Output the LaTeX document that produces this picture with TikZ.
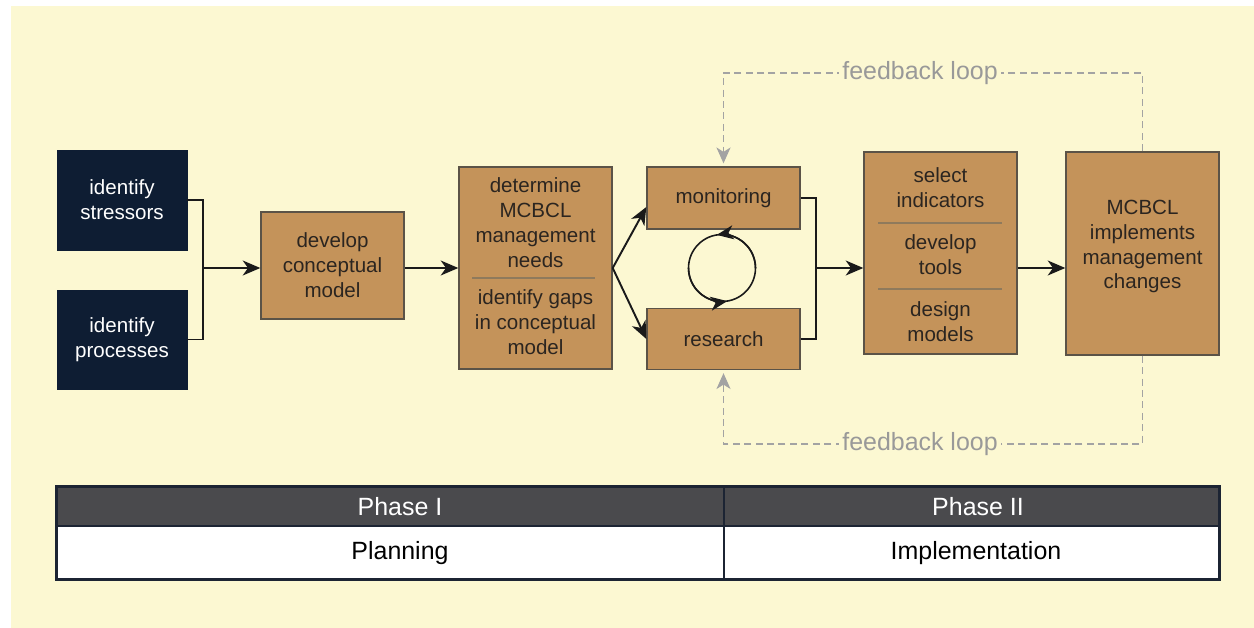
\documentclass[tikz,border=0pt]{standalone}
\usepackage{fontspec}
\setmainfont{Liberation Sans}
\usetikzlibrary{arrows.meta}
\definecolor{cream}{HTML}{FCF8D2}
\definecolor{tanfill}{HTML}{C4935A}
\definecolor{tanborder}{HTML}{5B5347}
\definecolor{tantext}{HTML}{2B2520}
\definecolor{sepline}{HTML}{8F7A5C}
\definecolor{navy}{HTML}{0E1D33}
\definecolor{fbgray}{HTML}{A3A3A3}
\definecolor{fbtext}{HTML}{999999}
\definecolor{hdrfill}{HTML}{4A4A4D}
\definecolor{tblborder}{HTML}{1C2433}
\definecolor{connblack}{HTML}{1A1A1A}
\newcommand\boxfont{\fontsize{11.7}{14.2}\selectfont}
\newcommand\bigfont{\fontsize{14.2}{17}\selectfont}
\begin{document}
\begin{tikzpicture}[x=0.02cm,y=-0.02cm,
  navybox/.style={draw=navy, fill=navy, text=white, inner sep=0, align=center, font=\boxfont},
  tanbox/.style={draw=tanborder, line width=0.8pt, fill=tanfill, text=tantext, align=center, inner sep=0, font=\boxfont},
  txt/.style={align=center, text=tantext, font=\boxfont, inner sep=0},
  sep/.style={draw=sepline, line width=0.6pt},
  conn/.style={line width=1.1pt, draw=connblack},
  arr/.style={conn, -{Stealth[length=10pt,width=8.5pt,inset=3pt]}},
  circarr/.style={line width=0.9pt, draw=connblack, -{Stealth[length=9.5pt,width=8pt,inset=2.8pt]}},
  fb/.style={draw=fbgray, line width=0.9pt, dash pattern=on 4pt off 2.5pt},
  fbarr/.style={fb, -{Stealth[length=9pt,width=8pt,inset=2.5pt]}, shorten >=1.7pt},
  fblabel/.style={fill=cream, text=fbtext, font=\bigfont, inner sep=2pt},
  cell/.style={draw=tblborder, line width=0.8pt, inner sep=0},
  hdrtxt/.style={text=white, font=\bigfont, inner sep=0},
  rowtxt/.style={text=black, font=\bigfont, inner sep=0}
]
\useasboundingbox (0,0) rectangle (1254,628);
\fill[white] (0,0) rectangle (1254,628);
\fill[cream] (11,6) rectangle (1254,628);

% boxes
\node[navybox, minimum width=2.6cm, minimum height=2.0cm] (s) at (122,200) {identify\\stressors};
\node[navybox, minimum width=2.6cm, minimum height=1.98cm] (p) at (122,339.5) {identify\\processes};
\node[tanbox, minimum width=2.86cm, minimum height=2.14cm] (c) at (332.5,265.5) {develop\\conceptual\\model};
\node[tanbox, minimum width=3.06cm, minimum height=4.04cm] (d) at (535.5,268) {};
\node[txt] (d1) at (535.5,223) {determine\\MCBCL\\management\\needs};
\node[txt] (d2) at (535.5,322) {identify gaps\\in conceptual\\model};
\draw[sep] (472,278) -- (595,278);
\node[tanbox, minimum width=3.06cm, minimum height=1.24cm] (m) at (723.5,198) {monitoring};
\node[tanbox, minimum width=3.06cm, minimum height=1.22cm] (r) at (723.5,339) {research};
\node[tanbox, minimum width=3.06cm, minimum height=4.04cm] (t) at (940.5,253) {};
\node[txt] (t1) at (940.5,187.5) {select\\indicators};
\node[txt] (t2) at (940.5,255) {develop\\tools};
\node[txt] (t3) at (940.5,321.5) {design\\models};
\draw[sep] (878,223) -- (1002,223);
\draw[sep] (878,289) -- (1002,289);
\node[tanbox, minimum width=3.06cm, minimum height=4.06cm] (i) at (1142.5,253.5) {};
\node[txt] (i1) at (1142.5,246.5) {MCBCL\\implements\\management\\changes};

% connectors
\coordinate (j1) at (203,268);
\coordinate (j2) at (816,268);
\draw[conn] (s.east) -| (j1);
\draw[conn] (p.east) -| (j1);
\draw[arr] (j1) -- (j1 -| c.west);
\draw[arr] (j1 -| c.east) -- (j1 -| d.west);
\draw[arr] (d.east) -- ([yshift=-0.18cm]m.west);
\draw[arr] (d.east) -- (r.west);
\draw[conn] (m.east) -| (j2);
\draw[conn] (r.east) -| (j2);
\draw[arr] (j2) -- (j2 -| t.west);
\draw[arr] (j2 -| t.east) -- (j2 -| i.west);

% cycle
\node[circle, draw=connblack, line width=0.9pt, minimum size=1.34cm, inner sep=0, outer sep=0] (loop) at (722,268) {};
\draw[circarr] (loop.east) arc[start angle=0, end angle=99, radius=0.67cm];
\draw[circarr] (loop.west) arc[start angle=180, end angle=279, radius=0.67cm];

% feedback loops
\coordinate (fbt) at (1142.5,73);
\coordinate (fbb) at (1142.5,444);
\draw[fbarr] (i.north) -- (fbt) -| (m.north);
\draw[fbarr] (i.south) -- (fbb) -| (r.south);
\node[fblabel] (fl1) at (920,73) {feedback loop};
\node[fblabel] (fl2) at (920,444) {feedback loop};

% table
\node[cell, fill=hdrfill, minimum width=13.34cm, minimum height=0.78cm] (h1) at (390.5,506.5) {};
\node[cell, fill=hdrfill, minimum width=9.9cm, minimum height=0.78cm] (h2) at (971.5,506.5) {};
\node[cell, fill=white, minimum width=13.34cm, minimum height=1.06cm] (b1) at (390.5,552.5) {};
\node[cell, fill=white, minimum width=9.9cm, minimum height=1.06cm] (b2) at (971.5,552.5) {};
\draw[tblborder, line width=1.5pt] (h1.north west) rectangle (b2.south east);
\node[hdrtxt] (ph1) at (400,507) {Phase I};
\node[hdrtxt] (ph2) at (978,507) {Phase II};
\node[rowtxt] (pl) at (400,553) {Planning};
\node[rowtxt] (im) at (976,553) {Implementation};
\end{tikzpicture}
\end{document}
